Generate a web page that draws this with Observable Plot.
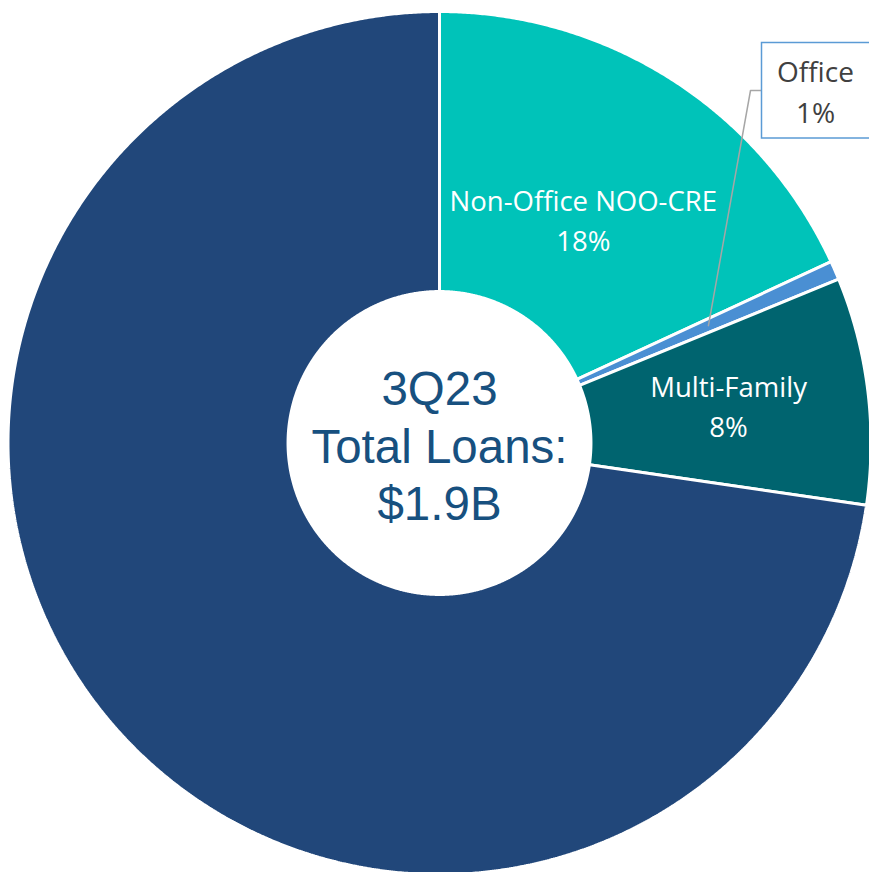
<!DOCTYPE html>
<html><head><meta charset="utf-8">
<script src="https://cdn.jsdelivr.net/npm/d3@7"></script>
<script src="https://cdn.jsdelivr.net/npm/@observablehq/plot@0.6"></script>
<style>body{margin:0;background:#fff} #chart{width:869px;height:872px;overflow:hidden}</style>
</head><body><div id="chart"></div>
<script>
// ---- data ----
const categories = ["Non-Office NOO-CRE", "Office", "Multi-Family", "Other Loans"];
const shares = [18.1, 0.7, 8.5, 72.7];
const pctLabels = ["18%", "1%", "8%", ""];
const colors = ["#00C3B9", "#4A8FD3", "#00646F", "#21477A"];
const centerLines = ["3Q23", "Total Loans:", "$1.9B"];

// ---- geometry helpers ----
const W = 869, H = 872, cx = 439, cy = 442.5, R = 431.5;
const inner = 0.351;
const px = p => (p - cx) / R;       // pixel -> data x
const py = p => (cy - p) / R;       // pixel -> data y

const arcs = d3.pie().sort(null).value(d => d)(shares);
const polys = [];
arcs.forEach((s, i) => {
  const a0 = s.startAngle, a1 = s.endAngle;
  const n = Math.max(6, Math.ceil((a1 - a0) / 0.005));
  const pts = [];
  for (let k = 0; k <= n; k++) { const a = a0 + (a1 - a0) * k / n; pts.push([Math.sin(a), Math.cos(a)]); }
  for (let k = n; k >= 0; k--) { const a = a0 + (a1 - a0) * k / n; pts.push([inner * Math.sin(a), inner * Math.cos(a)]); }
  pts.push(pts[0]);
  pts.forEach(p => polys.push({cat: categories[i], x: p[0], y: p[1]}));
});
const mid = i => (arcs[i].startAngle + arcs[i].endAngle) / 2;
const at = (i, r) => [r * Math.sin(mid(i)), r * Math.cos(mid(i))];

const inLabels = [
  {i: 0, r: 0.619, dyPx: 0},
  {i: 2, r: 0.675, dyPx: -3}
].map(d => { const [x, y] = at(d.i, d.r); return {x, y: y - d.dyPx / R, text: categories[d.i] + "\n" + pctLabels[d.i]}; });

// Office call-out
const oIdx = 1;
const [ox, oy] = at(oIdx, 0.68);
const leader = [{x: ox, y: oy}, {x: px(750), y: py(90)}, {x: px(761.5), y: py(90)}];
const box = [{x1: px(761.5), x2: px(880), y1: py(42.5), y2: py(138)}];
const boxText = [{x: px(815), y: py(89), text: categories[oIdx] + "\n" + pctLabels[oIdx]}];

const labelFont = "'Open Sans', Carlito, sans-serif";

const chart = Plot.plot({
  width: W, height: H,
  margin: 0,
  x: {domain: [px(0), px(W)], axis: null},
  y: {domain: [py(H), py(0)], axis: null},
  color: {domain: categories, range: colors},
  style: {background: "#fff"},
  marks: [
    Plot.line(polys, {x: "x", y: "y", z: "cat", fill: "cat", stroke: "white", strokeWidth: 3, strokeLinejoin: "miter", curve: "linear"}),
    Plot.line(leader, {x: "x", y: "y", stroke: "#A6A6A6", strokeWidth: 1.5}),
    Plot.rect(box, {x1: "x1", x2: "x2", y1: "y1", y2: "y2", fill: "white", stroke: "#5B9BD5", strokeWidth: 1.5}),
    Plot.text(boxText, {x: "x", y: "y", text: "text", fill: "#404040", fontSize: 28, lineHeight: 1.47, fontFamily: labelFont}),
    Plot.text(inLabels, {x: "x", y: "y", text: "text", fill: "white", fontSize: 27.5, lineHeight: 1.45, fontFamily: labelFont}),
    Plot.text([{x: 0, y: py(444), text: centerLines.join("\n")}], {x: "x", y: "y", text: "text", fill: "#17507F", fontSize: 47.5, lineHeight: 1.21, fontFamily: "'Liberation Sans', Arial, sans-serif"})
  ]
});
document.getElementById("chart").append(chart);
</script>
</body></html>
